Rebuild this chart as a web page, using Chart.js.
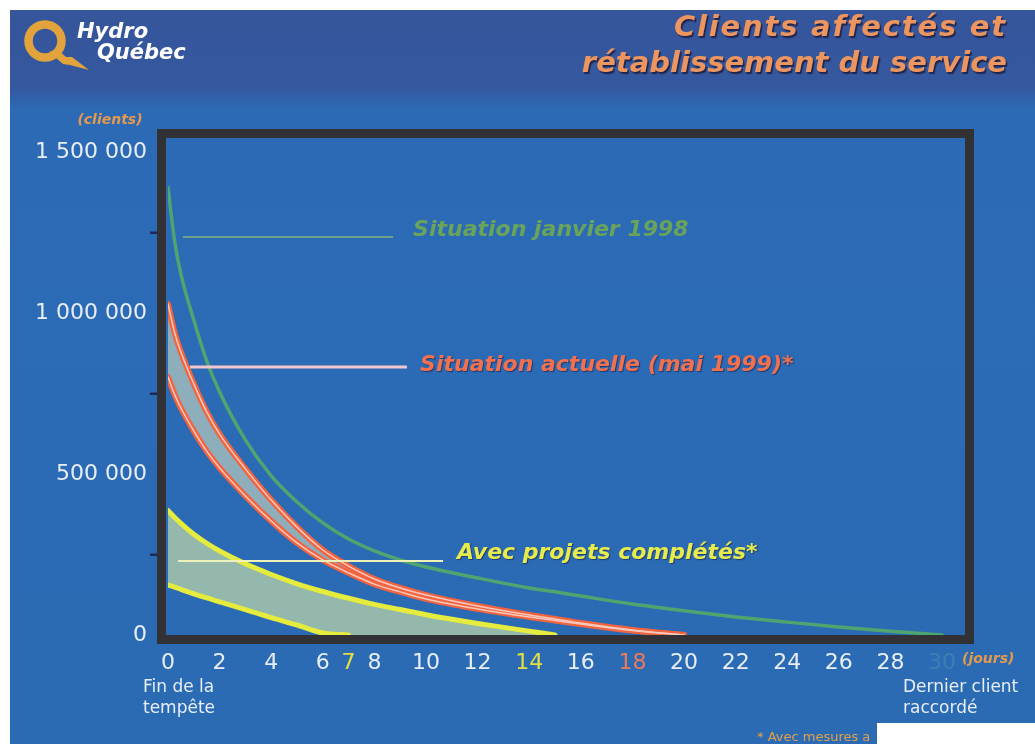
<!DOCTYPE html>
<html lang="fr">
<head>
<meta charset="utf-8">
<title>Clients affectés et rétablissement du service</title>
<script src="https://cdn.jsdelivr.net/npm/chart.js@4.4.1/dist/chart.umd.min.js"></script>
<style>
  html, body { margin: 0; padding: 0; background: #ffffff; }
  #wrap { position: relative; width: 1035px; height: 744px; }
  canvas { display: block; }
</style>
</head>
<body>
<div id="wrap"><canvas id="chart" width="1035" height="744"></canvas></div>
<script>
// Jours écoulés depuis la fin de la tempête
const days = [0, 0.25, 0.5, 1, 1.5, 2, 3, 4, 5, 6, 7, 8, 9, 10, 12, 14, 15, 16, 18, 20, 22, 24, 26, 28, 30];

// Clients privés d'électricité — situation de janvier 1998
const janvier1998 = [1390000, 1227000, 1121000, 978000, 851000, 755000, 606000, 494000, 413000, 348000, 298000, 261000, 233000, 211000, 177000, 146000, 134000, 121000, 96000, 75000, 56000, 40000, 25000, 12000, 0];

// Situation actuelle (mai 1999) : bornes haute et basse de la bande
const actuelleHaut = [1028000, 941000, 879000, 780000, 693000, 624000, 516000, 419000, 335000, 264000, 214000, 174000, 146000, 124000, 90000, 62000, 50000, 37000, 15500, 0, 0, 0, 0, 0, 0];
const actuelleBas = [801000, 748000, 705000, 634000, 571000, 519000, 432000, 354000, 286000, 233000, 193000, 158000, 134000, 112000, 81000, 56000, 45000, 34000, 14000, 0, 0, 0, 0, 0, 0];

// Avec projets complétés : bornes haute et basse de la bande
const projetsHaut = [387000, 366000, 347000, 313000, 285000, 261000, 221000, 188000, 159000, 135000, 114000, 95000, 79000, 63000, 36000, 12000, 0, 0, 0, 0, 0, 0, 0, 0, 0];
const projetsBas = [155000, 149000, 142000, 128000, 115000, 103000, 79000, 54000, 31000, 6000, 0, 0, 0, 0, 0, 0, 0, 0, 0, 0, 0, 0, 0, 0, 0];

// Graduations
const xTickValues = [0, 2, 4, 6, 7, 8, 10, 12, 14, 16, 18, 20, 22, 24, 26, 28, 30];
const yTickValues = [0, 500000, 1000000, 1500000];
const yTickLabels = ['0', '500 000', '1 000 000', '1 500 000'];
const yMinorTicks = [250000, 750000, 1250000];

const W = 1035, H = 744;
const SANS = "'DejaVu Sans', 'Liberation Sans', sans-serif";

const pts = arr => days.map((d, i) => ({ x: d, y: arr[i] }));
// A curve stops being drawn once it has reached zero
const untilZero = arr => {
  const i = arr.indexOf(0);
  return i < 0 ? arr : arr.map((v, k) => (k > i ? null : v));
};

function tickColour(day) {
  if (day === 7 || day === 14) return '#e4e044';
  if (day === 18) return '#f0795a';
  if (day === 30) return '#3d7fb3';
  return '#e8eef6';
}

const leaders = [
  { text: 'Situation janvier 1998', from: 0.58, to: 8.72, lineAt: 1236000, textAt: 9.5, textY: 1258000,
    line: 'rgba(140,185,120,0.7)', lineWidth: 2, colour: '#6aa35a', shadow: false },
  { text: 'Situation actuelle (mai 1999)*', from: 0.85, to: 9.26, lineAt: 832000, textAt: 9.77, textY: 838000,
    line: '#f3c5cf', lineWidth: 3, colour: '#f1704f', shadow: true },
  { text: 'Avec projets complétés*', from: 0.39, to: 10.66, lineAt: 230000, textAt: 11.2, textY: 255000,
    line: '#eef2b8', lineWidth: 2, colour: '#e6ec4c', shadow: true }
];

function drawLogo(ctx) {
  ctx.save();
  ctx.strokeStyle = '#e2a23c';
  ctx.fillStyle = '#e2a23c';
  ctx.lineWidth = 8.5;
  ctx.beginPath();
  ctx.arc(45, 41, 16.5, 0, Math.PI * 2);
  ctx.stroke();
  // éclair formant la queue du Q
  ctx.beginPath();
  ctx.moveTo(49, 52);
  ctx.lineTo(57, 49);
  ctx.lineTo(66, 57);
  ctx.lineTo(72, 57);
  ctx.lineTo(89, 70);
  ctx.lineTo(70, 65);
  ctx.lineTo(63, 64);
  ctx.lineTo(56, 58);
  ctx.closePath();
  ctx.fill();
  ctx.fillStyle = '#ffffff';
  ctx.font = 'italic bold 21px ' + SANS;
  ctx.textBaseline = 'alphabetic';
  ctx.fillText('Hydro', 77, 38);
  ctx.fillText('Québec', 97, 59);
  ctx.restore();
}

function drawTitle(ctx) {
  ctx.save();
  ctx.font = 'italic bold 29px ' + SANS;
  ctx.fillStyle = '#ec955f';
  ctx.textAlign = 'right';
  ctx.textBaseline = 'alphabetic';
  ctx.shadowColor = 'rgba(25,20,50,0.75)';
  ctx.shadowOffsetX = 1.5;
  ctx.shadowOffsetY = 1.5;
  ctx.shadowBlur = 1;
  ctx.letterSpacing = '1.8px';
  ctx.fillText('Clients affectés et', 1007, 36);
  ctx.letterSpacing = '0px';
  ctx.fillText('rétablissement du service', 1007, 72);
  ctx.restore();
}

const slide = {
  id: 'slide',
  beforeDraw(chart) {
    const ctx = chart.ctx;
    ctx.save();
    ctx.fillStyle = '#ffffff';
    ctx.fillRect(0, 0, W, H);
    const g = ctx.createLinearGradient(0, 10, 0, H);
    g.addColorStop(0, '#36559b');
    g.addColorStop(0.105, '#34589e');
    g.addColorStop(0.135, '#2c6ab5');
    g.addColorStop(1, '#2a6bb4');
    ctx.fillStyle = g;
    ctx.fillRect(10, 10, W - 10, H - 10);
    ctx.restore();
    drawLogo(ctx);
    drawTitle(ctx);
  },
  afterDatasetsDraw(chart) {
    const ctx = chart.ctx;
    const a = chart.chartArea;
    const xs = chart.scales.x, ys = chart.scales.y;
    ctx.save();
    // cadre du graphique
    ctx.strokeStyle = '#323236';
    ctx.lineWidth = 9;
    ctx.strokeRect(a.left - 6.5, a.top - 4.5, a.right - a.left + 11, a.bottom - a.top + 9);
    // petites graduations intermédiaires
    ctx.fillStyle = '#1d2a55';
    yMinorTicks.forEach(v => {
      const y = ys.getPixelForValue(v);
      ctx.fillRect(a.left - 18, y - 1, 7, 2.5);
    });
    // traits de rappel et étiquettes des courbes
    ctx.font = 'italic bold 22px ' + SANS;
    ctx.textBaseline = 'middle';
    leaders.forEach(l => {
      const y = ys.getPixelForValue(l.lineAt);
      ctx.strokeStyle = l.line;
      ctx.lineWidth = l.lineWidth;
      ctx.beginPath();
      ctx.moveTo(xs.getPixelForValue(l.from), y);
      ctx.lineTo(xs.getPixelForValue(l.to), y);
      ctx.stroke();
      ctx.save();
      if (l.shadow) {
        ctx.shadowColor = 'rgba(30,25,60,0.6)';
        ctx.shadowOffsetX = 1;
        ctx.shadowOffsetY = 1;
        ctx.shadowBlur = 1;
      }
      ctx.fillStyle = l.colour;
      ctx.fillText(l.text, xs.getPixelForValue(l.textAt), ys.getPixelForValue(l.textY));
      ctx.restore();
    });
    ctx.restore();
  },
  afterDraw(chart) {
    const ctx = chart.ctx;
    ctx.save();
    ctx.textBaseline = 'middle';
    // unités des axes
    ctx.fillStyle = '#e39a4c';
    ctx.font = 'italic bold 14px ' + SANS;
    ctx.textAlign = 'center';
    ctx.fillText('(clients)', 110, 120);
    ctx.textAlign = 'left';
    ctx.fillText('(jours)', 962, 659);
    // repères sous l'axe des jours
    ctx.fillStyle = '#e8eef6';
    ctx.font = '17px ' + SANS;
    ctx.fillText('Fin de la', 143, 688);
    ctx.fillText('tempête', 143, 709);
    ctx.fillText('Dernier client', 903, 688);
    ctx.fillText('raccordé', 903, 709);
    // note de bas de page
    ctx.fillStyle = '#e2a04a';
    ctx.font = '13px ' + SANS;
    ctx.fillText('* Avec mesures a', 757, 738);
    ctx.fillStyle = '#ffffff';
    ctx.fillRect(877, 723, W - 877, H - 723);
    ctx.restore();
  }
};

const lineBase = {
  pointRadius: 0,
  pointHoverRadius: 0,
  cubicInterpolationMode: 'monotone',
  borderCapStyle: 'round',
  fill: false
};
const line = extra => Object.assign({}, lineBase, extra);

new Chart(document.getElementById('chart'), {
  type: 'line',
  data: {
    datasets: [
      line({ label: 'Situation janvier 1998', data: pts(untilZero(janvier1998)),
        borderColor: 'rgba(82,172,104,0.9)', borderWidth: 3.5, order: 6 }),
      line({ label: 'Situation actuelle — haut', data: pts(untilZero(actuelleHaut)),
        borderColor: '#f2643f', borderWidth: 6, fill: 2, backgroundColor: '#8eaebb', order: 5 }),
      line({ label: 'Situation actuelle — bas', data: pts(untilZero(actuelleBas)),
        borderColor: '#f2643f', borderWidth: 6, order: 4 }),
      line({ label: 'Situation actuelle — haut (centre)', data: pts(untilZero(actuelleHaut)),
        borderColor: '#f7c9bd', borderWidth: 1.5, order: 3 }),
      line({ label: 'Situation actuelle — bas (centre)', data: pts(untilZero(actuelleBas)),
        borderColor: '#f7c9bd', borderWidth: 1.5, order: 3 }),
      line({ label: 'Avec projets complétés — haut', data: pts(untilZero(projetsHaut)),
        borderColor: '#e5ec3e', borderWidth: 5, fill: 7, backgroundColor: '#94b8ab', order: 2 }),
      line({ label: 'Avec projets complétés — bas', data: pts(untilZero(projetsBas)),
        borderColor: '#e5ec3e', borderWidth: 5, order: 1 }),
      // limite inférieure complète de la bande jaune (sert seulement au remplissage)
      line({ label: 'Avec projets complétés — limite', data: pts(projetsBas),
        borderColor: 'rgba(0,0,0,0)', borderWidth: 0, order: 9 })
    ]
  },
  options: {
    responsive: false,
    devicePixelRatio: 1,
    animation: false,
    events: [],
    layout: { padding: { left: 0, top: 138, right: 70, bottom: 0 } },
    plugins: {
      legend: { display: false },
      tooltip: { enabled: false },
      title: { display: false }
    },
    scales: {
      x: {
        type: 'linear',
        min: 0,
        max: 30.89,
        grid: { display: false, drawTicks: false },
        border: { display: false },
        afterFit: s => { s.height = H - 635; },
        afterBuildTicks: s => { s.ticks = xTickValues.map(v => ({ value: v })); },
        ticks: {
          autoSkip: false,
          maxRotation: 0,
          padding: 15,
          font: { family: SANS, size: 22 },
          color: c => tickColour(c.tick ? c.tick.value : -1),
          callback: v => String(v)
        }
      },
      y: {
        type: 'linear',
        min: 0,
        max: 1543500,
        grid: { display: false, drawTicks: false },
        border: { display: false },
        afterFit: s => { s.width = 168; },
        afterBuildTicks: s => { s.ticks = yTickValues.map(v => ({ value: v })); },
        ticks: {
          autoSkip: false,
          padding: 21,
          font: { family: SANS, size: 22 },
          color: '#e8eef6',
          callback: v => yTickLabels[yTickValues.indexOf(v)]
        }
      }
    }
  },
  plugins: [slide]
});
</script>
</body>
</html>
